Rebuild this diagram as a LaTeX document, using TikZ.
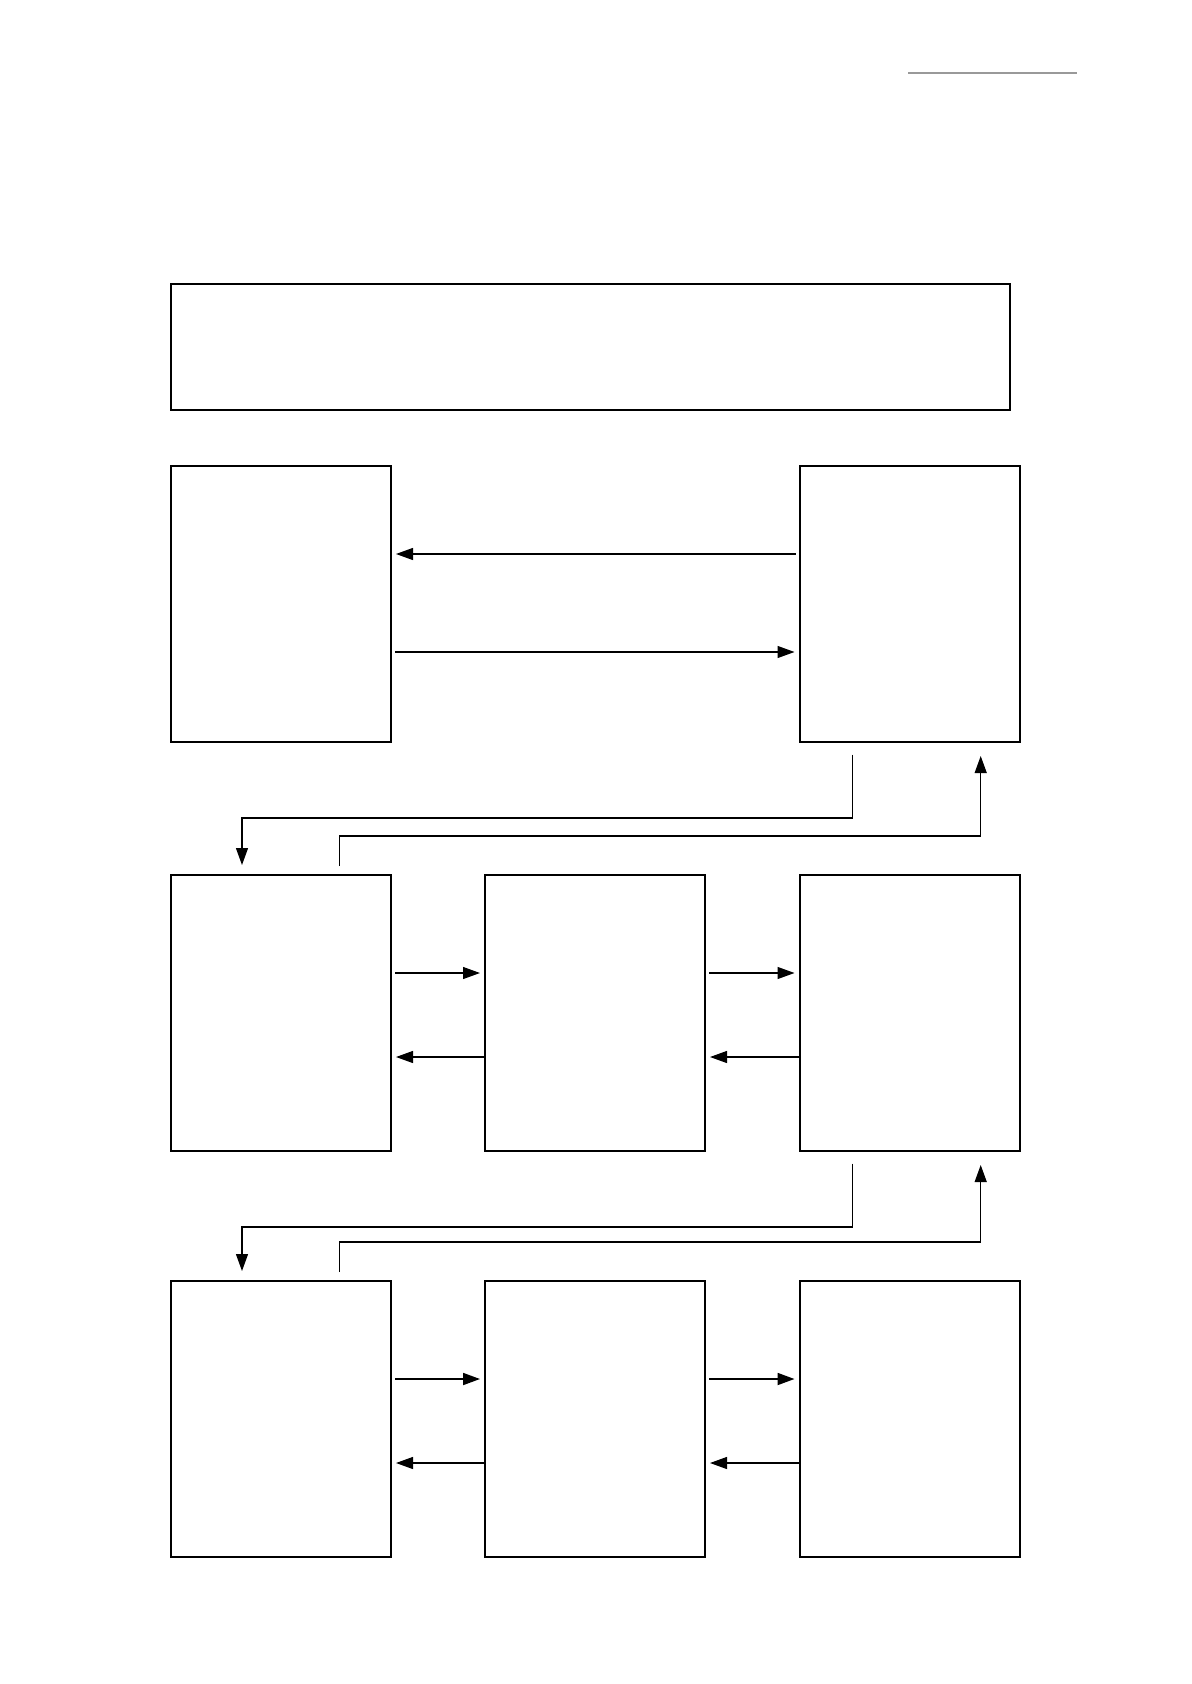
\documentclass[tikz,border=0pt]{standalone}
\usetikzlibrary{arrows.meta}
\tikzset{
  blk/.style={draw, line width=1pt, minimum width=110pt, minimum height=138pt, inner sep=0pt},
  arr/.style={-{Triangle[length=8.5pt,width=6pt]}, line width=0.6pt, shorten <=1.5pt, shorten >=2pt},
}
\begin{document}
\begin{tikzpicture}[x=0.5pt,y=-0.5pt]
        \useasboundingbox (0,0) rectangle (1191,1684);
        \draw[black!40, line width=1pt] (908,73) -- (1077,73);
        \node[blk, minimum width=419.5pt, minimum height=63pt] (head) at (590.5,347) {};
        \node[blk] (a1) at (281,604) {};
        \node[blk] (c1) at (909.5,604) {};
        \foreach \r/\y in {2/1013,3/1419} {
            \node[blk] (a\r) at (281,\y) {};
            \node[blk] (b\r) at (595,\y) {};
            \node[blk] (c\r) at (909.5,\y) {};
        }
        \draw[arr] ([yshift=25pt]c1.west) -- ([yshift=25pt]a1.east);
        \draw[arr] ([yshift=-24pt]a1.east) -- ([yshift=-24pt]c1.west);
        \foreach \r/\w in {2/0.6pt,3/0.9pt} {
            \draw[arr, line width=\w] ([yshift=20pt]a\r.east) -- ([yshift=20pt]b\r.west);
            \draw[arr, line width=\w] ([yshift=20pt]b\r.east) -- ([yshift=20pt]c\r.west);
            \draw[arr, shorten <=0pt] ([yshift=-22pt]b\r.west) -- ([yshift=-22pt]a\r.east);
            \draw[arr, shorten <=0pt] ([yshift=-22pt]c\r.west) -- ([yshift=-22pt]b\r.east);
        }
        \foreach \r/\s in {1/2,2/3} {
            \draw[arr, shorten <=5.75pt, shorten >=4.5pt] ([xshift=-28.4pt]c\r.south) -- ++(0,75) -| ([xshift=-19.5pt]a\s.north);
            \draw[arr, shorten <=4pt, shorten >=6.5pt] ([xshift=29.4pt]a\s.north) -- ++(0,-38) -| ([xshift=35.6pt]c\r.south);
        }
    \end{tikzpicture}
\end{document}
